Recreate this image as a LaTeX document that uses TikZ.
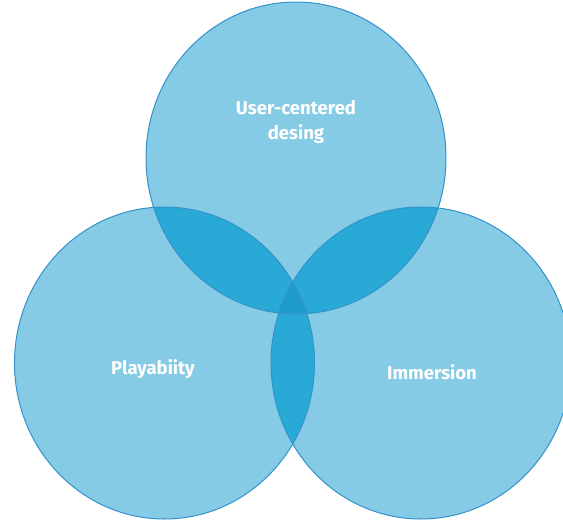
\documentclass[tikz,border=0pt]{standalone}
\usepackage{fontspec}
\setmainfont{Fira Sans}
\usepackage{tikz}
\usetikzlibrary{positioning}

\definecolor{venlight}{RGB}{134,203,229}
\definecolor{vendouble}{RGB}{40,169,214}
\definecolor{ventriple}{RGB}{30,156,205}
\definecolor{venedge}{RGB}{52,146,203}

\tikzset{
    setlabel/.style={text=white, font=\bfseries\fontsize{18.5}{25}\selectfont, align=center},
    setedge/.style={draw=venedge, line width=1pt}
}

\begin{document}
\begin{tikzpicture}[x=1pt, y=-1pt]

            % fix the page to the reference size
            \useasboundingbox (0,0) rectangle (563,520);
            \clip (0,0) rectangle (563,520);

            % centers of the three sets
            \coordinate (design) at (296,158);
            \coordinate (play) at (164.5,363);
            \coordinate (immersion) at (421,363);

            % fill the three sets
            \fill[venlight] (design) ellipse (150 and 156);
            \fill[venlight] (play) ellipse (150 and 156);
            \fill[venlight] (immersion) ellipse (150 and 156);

            % fill the pairwise overlaps
            {
            \begin{scope}
                \clip (design) ellipse (150 and 156);
                \fill[vendouble] (play) ellipse (150 and 156);
                \fill[vendouble] (immersion) ellipse (150 and 156);
            \end{scope}
            \begin{scope}
                \clip (play) ellipse (150 and 156);
                \fill[vendouble] (immersion) ellipse (150 and 156);
            \end{scope}
            }

            % fill the middle where all three meet
            \begin{scope}
                \clip (design) ellipse (150 and 156);
                \clip (play) ellipse (150 and 156);
                \fill[ventriple] (immersion) ellipse (150 and 156);
            \end{scope}

            % draw the outlines
            \draw[setedge] (design) ellipse (150 and 156);
            \draw[setedge] (play) ellipse (150 and 156);
            \draw[setedge] (immersion) ellipse (150 and 156);

            % label the sets
            \node[setlabel] (designlabel) at (296,122) {User-centered\\desing};
            \node[setlabel] (playlabel) at (153,369) {Playabiity};
            \node[setlabel] (immersionlabel) at (432,372) {Immersion};
\end{tikzpicture}
\end{document}
